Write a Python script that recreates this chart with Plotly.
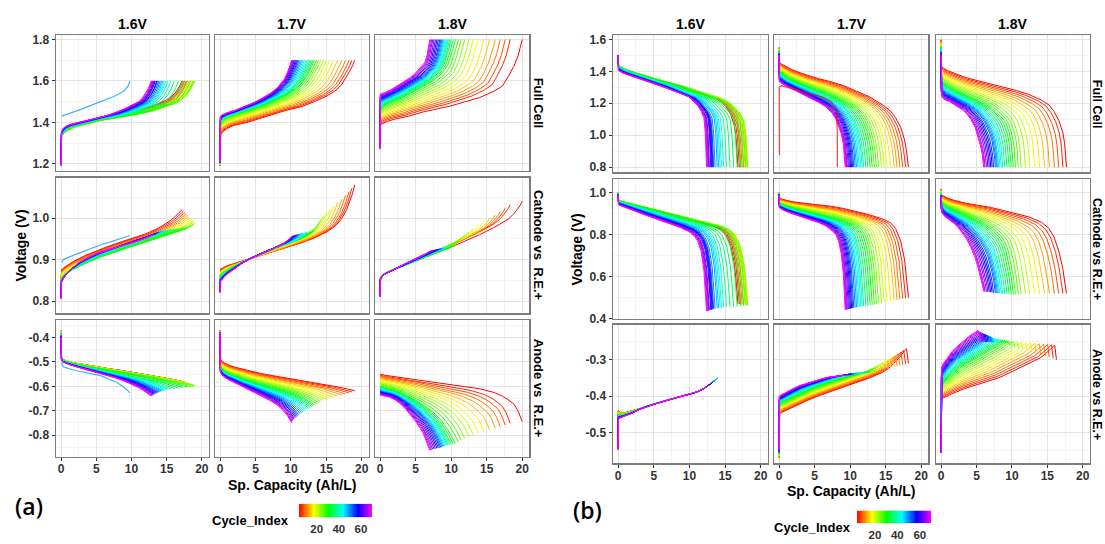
import numpy as np
import plotly.graph_objects as go
from plotly.colors import sample_colorscale

W, H = 1105, 544
FONT = "Liberation Sans"

# ---------------- data ----------------
cycles = list(range(4, 71, 2))
CMIN, CMAX = 4, 70
rainbow = [[0.0, '#FF0000'], [0.2, '#FFFF00'], [0.4, '#00FF00'],
           [0.6, '#00FFFF'], [0.8, '#0000FF'], [1.0, '#FF00FF']]

# end capacity (Ah/L) of each cycle, per cut-off voltage
cap_a16 = [17.2, 17.4, 17.6, 17.8, 18.0, 18.2, 18.4, 18.6, 18.8, 18.9, 19.0, 18.8, 18.4, 17.9, 17.3, 16.7, 16.1,
           15.6, 15.2, 14.9, 14.7, 14.5, 14.3, 14.1, 13.9, 13.7, 13.6, 13.4, 13.3, 13.2, 13.1, 13.0, 12.9, 12.8]
cap_a17 = [19.0, 18.6, 18.2, 17.7, 17.2, 16.6, 16.0, 15.5, 15.0, 14.6, 14.2, 13.9, 13.6, 13.3, 13.1, 12.9, 12.7,
           12.5, 12.3, 12.1, 11.9, 11.7, 11.5, 11.3, 11.1, 10.95, 10.8, 10.65, 10.5, 10.4, 10.3, 10.2, 10.15, 10.1]
cap_a18 = [20.0, 18.3, 17.6, 16.9, 16.2, 15.4, 14.6, 13.8, 13.1, 12.5, 11.9, 11.4, 11.0, 10.6, 10.3, 10.0, 9.8,
           9.6, 9.45, 9.3, 9.15, 9.0, 8.85, 8.7, 8.55, 8.4, 8.2, 8.0, 7.8, 7.6, 7.4, 7.25, 7.1, 7.0]
cap_b16 = [16.8, 17.0, 17.2, 17.4, 17.6, 17.8, 18.0, 18.1, 18.2, 18.2, 18.1, 17.9, 17.6, 17.2, 16.7, 16.2, 15.7,
           15.2, 14.8, 14.5, 14.3, 14.1, 13.9, 13.6, 13.4, 13.3, 13.2, 13.1, 13.0, 12.8, 12.7, 12.6, 12.5, 12.4]
cap_b17 = [18.2, 17.8, 17.4, 17.0, 16.6, 16.2, 15.7, 15.2, 14.8, 14.4, 14.0, 13.7, 13.4, 13.1, 12.8, 12.5, 12.2,
           11.9, 11.7, 11.5, 11.3, 11.1, 10.9, 10.7, 10.5, 10.35, 10.2, 10.05, 9.9, 9.75, 9.6, 9.5, 9.4, 9.3]
cap_b18 = [17.7, 17.2, 16.6, 16.0, 15.3, 14.6, 13.9, 13.2, 12.5, 11.9, 11.3, 10.9, 10.5, 10.2, 9.9, 9.6, 9.3,
           9.0, 8.7, 8.5, 8.3, 8.1, 7.95, 7.8, 7.65, 7.4, 7.2, 7.0, 6.8, 6.6, 6.4, 6.2, 6.1, 6.0]

# fraction of each cycle's capacity at which the key-curve voltages were read
frac_grid = [0, 0.004, 0.02, 0.05, 0.1, 0.2, 0.3, 0.4, 0.5, 0.6, 0.7, 0.8, 0.86, 0.9, 0.94, 0.97, 0.985, 1.0]

# key curves (voltage) read at cycles 4 (red), 30 (green), 70 (magenta)
a_full_16 = {4: [1.20, 1.33, 1.35, 1.36, 1.375, 1.395, 1.41, 1.425, 1.44, 1.455, 1.47, 1.49, 1.505, 1.52, 1.54, 1.565, 1.58, 1.60],
             30: [1.22, 1.335, 1.35, 1.365, 1.38, 1.395, 1.41, 1.42, 1.43, 1.44, 1.455, 1.475, 1.49, 1.505, 1.53, 1.56, 1.578, 1.60],
             70: [1.19, 1.35, 1.37, 1.38, 1.39, 1.40, 1.41, 1.42, 1.432, 1.447, 1.465, 1.487, 1.50, 1.515, 1.54, 1.565, 1.58, 1.60]}
a_full_17 = {4: [1.19, 1.34, 1.355, 1.37, 1.385, 1.40, 1.42, 1.44, 1.46, 1.475, 1.50, 1.53, 1.555, 1.58, 1.62, 1.655, 1.675, 1.70],
             30: [1.20, 1.39, 1.41, 1.42, 1.43, 1.445, 1.46, 1.475, 1.49, 1.51, 1.53, 1.56, 1.585, 1.61, 1.64, 1.67, 1.685, 1.70],
             70: [1.21, 1.425, 1.435, 1.44, 1.447, 1.457, 1.47, 1.485, 1.50, 1.518, 1.54, 1.567, 1.59, 1.61, 1.64, 1.665, 1.68, 1.70]}
a_full_18 = {4: [1.37, 1.39, 1.395, 1.405, 1.415, 1.43, 1.45, 1.465, 1.48, 1.50, 1.52, 1.55, 1.575, 1.62, 1.67, 1.72, 1.76, 1.80],
             30: [1.30, 1.46, 1.47, 1.48, 1.49, 1.505, 1.52, 1.54, 1.56, 1.58, 1.60, 1.63, 1.655, 1.68, 1.72, 1.76, 1.78, 1.80],
             70: [1.27, 1.535, 1.54, 1.54, 1.545, 1.555, 1.57, 1.585, 1.60, 1.615, 1.635, 1.66, 1.675, 1.69, 1.72, 1.76, 1.78, 1.80]}
a_cat_16 = {4: [0.84, 0.875, 0.88, 0.886, 0.895, 0.91, 0.922, 0.933, 0.943, 0.952, 0.962, 0.975, 0.985, 0.993, 1.003, 1.012, 1.016, 1.02],
            30: [0.82, 0.852, 0.86, 0.868, 0.877, 0.892, 0.905, 0.916, 0.926, 0.936, 0.946, 0.955, 0.961, 0.965, 0.969, 0.973, 0.975, 0.977],
            70: [0.805, 0.845, 0.852, 0.862, 0.875, 0.893, 0.905, 0.915, 0.922, 0.929, 0.935, 0.941, 0.945, 0.948, 0.951, 0.954, 0.955, 0.957]}
a_cat_17 = {4: [0.845, 0.877, 0.88, 0.885, 0.89, 0.90, 0.91, 0.92, 0.93, 0.94, 0.952, 0.968, 0.982, 0.997, 1.02, 1.045, 1.06, 1.08],
            30: [0.83, 0.86, 0.865, 0.87, 0.877, 0.89, 0.90, 0.91, 0.92, 0.929, 0.937, 0.945, 0.95, 0.955, 0.96, 0.965, 0.967, 0.97],
            70: [0.82, 0.847, 0.85, 0.857, 0.865, 0.878, 0.89, 0.90, 0.908, 0.915, 0.922, 0.93, 0.935, 0.94, 0.945, 0.95, 0.952, 0.955]}
a_cat_18 = {4: [0.81, 0.86, 0.865, 0.87, 0.877, 0.89, 0.903, 0.917, 0.93, 0.945, 0.96, 0.977, 0.988, 0.997, 1.01, 1.022, 1.03, 1.04],
            30: [0.82, 0.855, 0.86, 0.865, 0.87, 0.878, 0.884, 0.891, 0.898, 0.905, 0.912, 0.92, 0.924, 0.927, 0.93, 0.932, 0.933, 0.934],
            70: [0.81, 0.85, 0.855, 0.86, 0.865, 0.872, 0.878, 0.884, 0.89, 0.895, 0.90, 0.906, 0.91, 0.912, 0.915, 0.918, 0.919, 0.92]}
a_an_16 = {4: [-0.37, -0.48, -0.49, -0.497, -0.503, -0.512, -0.52, -0.528, -0.535, -0.543, -0.551, -0.56, -0.565, -0.569, -0.573, -0.577, -0.579, -0.58],
           30: [-0.38, -0.485, -0.495, -0.50, -0.507, -0.518, -0.528, -0.537, -0.546, -0.555, -0.564, -0.575, -0.582, -0.588, -0.594, -0.598, -0.60, -0.603],
           70: [-0.40, -0.49, -0.50, -0.505, -0.512, -0.523, -0.533, -0.543, -0.553, -0.565, -0.578, -0.594, -0.605, -0.614, -0.624, -0.632, -0.636, -0.64]}
a_an_17 = {4: [-0.37, -0.49, -0.50, -0.51, -0.52, -0.535, -0.547, -0.557, -0.566, -0.575, -0.584, -0.593, -0.60, -0.605, -0.61, -0.614, -0.616, -0.618],
           30: [-0.38, -0.52, -0.53, -0.54, -0.55, -0.565, -0.577, -0.588, -0.598, -0.608, -0.62, -0.633, -0.642, -0.65, -0.66, -0.668, -0.672, -0.675],
           70: [-0.38, -0.54, -0.55, -0.56, -0.57, -0.585, -0.60, -0.613, -0.627, -0.642, -0.658, -0.677, -0.692, -0.705, -0.72, -0.735, -0.743, -0.75]}
a_an_18 = {4: [-0.55, -0.55, -0.553, -0.556, -0.56, -0.567, -0.575, -0.585, -0.593, -0.60, -0.61, -0.625, -0.64, -0.655, -0.672, -0.70, -0.72, -0.745],
           30: [-0.60, -0.60, -0.603, -0.606, -0.61, -0.618, -0.63, -0.645, -0.662, -0.682, -0.705, -0.735, -0.76, -0.778, -0.80, -0.818, -0.827, -0.835],
           70: [-0.635, -0.635, -0.637, -0.638, -0.64, -0.645, -0.655, -0.67, -0.69, -0.715, -0.74, -0.77, -0.79, -0.81, -0.83, -0.848, -0.856, -0.863]}

b_full_16 = {4: [1.50, 1.425, 1.42, 1.41, 1.395, 1.37, 1.345, 1.32, 1.30, 1.28, 1.26, 1.235, 1.21, 1.18, 1.13, 1.06, 0.98, 0.80],
             30: [1.50, 1.435, 1.43, 1.415, 1.40, 1.375, 1.35, 1.33, 1.31, 1.28, 1.255, 1.225, 1.20, 1.17, 1.14, 1.10, 1.0, 0.80],
             70: [1.50, 1.405, 1.40, 1.39, 1.38, 1.36, 1.342, 1.325, 1.305, 1.285, 1.265, 1.24, 1.21, 1.185, 1.15, 1.11, 1.02, 0.80]}
b_full_17 = {4: [1.55, 1.455, 1.445, 1.43, 1.41, 1.38, 1.355, 1.335, 1.31, 1.275, 1.24, 1.19, 1.152, 1.11, 1.05, 0.97, 0.90, 0.80],
             30: [1.53, 1.40, 1.39, 1.375, 1.355, 1.33, 1.305, 1.285, 1.265, 1.24, 1.21, 1.17, 1.13, 1.09, 1.03, 0.96, 0.90, 0.80],
             70: [1.50, 1.335, 1.33, 1.32, 1.31, 1.29, 1.27, 1.25, 1.23, 1.205, 1.18, 1.14, 1.10, 1.06, 1.01, 0.95, 0.89, 0.80]}
b_full_18 = {4: [1.60, 1.43, 1.42, 1.405, 1.39, 1.36, 1.34, 1.32, 1.30, 1.28, 1.255, 1.22, 1.19, 1.15, 1.09, 1.02, 0.95, 0.80],
             30: [1.55, 1.34, 1.33, 1.32, 1.305, 1.28, 1.26, 1.24, 1.22, 1.195, 1.17, 1.13, 1.10, 1.07, 1.02, 0.96, 0.90, 0.80],
             70: [1.50, 1.245, 1.24, 1.23, 1.22, 1.21, 1.195, 1.175, 1.16, 1.135, 1.10, 1.05, 1.0, 0.96, 0.92, 0.88, 0.85, 0.80]}
b_cat_16 = {4: [1.00, 0.965, 0.96, 0.955, 0.945, 0.93, 0.915, 0.90, 0.885, 0.87, 0.855, 0.84, 0.825, 0.80, 0.75, 0.66, 0.58, 0.47],
            30: [1.00, 0.965, 0.96, 0.955, 0.947, 0.933, 0.918, 0.903, 0.888, 0.873, 0.858, 0.84, 0.823, 0.80, 0.75, 0.66, 0.57, 0.46],
            70: [0.99, 0.945, 0.94, 0.935, 0.925, 0.91, 0.895, 0.88, 0.865, 0.85, 0.835, 0.815, 0.795, 0.77, 0.72, 0.63, 0.55, 0.435]}
b_cat_17 = {4: [1.00, 0.975, 0.97, 0.965, 0.958, 0.95, 0.943, 0.936, 0.925, 0.91, 0.895, 0.875, 0.858, 0.83, 0.77, 0.68, 0.60, 0.50],
            30: [1.00, 0.95, 0.945, 0.94, 0.932, 0.92, 0.91, 0.90, 0.89, 0.878, 0.865, 0.845, 0.825, 0.80, 0.74, 0.65, 0.56, 0.465],
            70: [0.99, 0.93, 0.925, 0.92, 0.912, 0.90, 0.89, 0.88, 0.87, 0.858, 0.843, 0.82, 0.80, 0.77, 0.71, 0.62, 0.53, 0.44]}
b_cat_18 = {4: [1.02, 0.99, 0.985, 0.975, 0.965, 0.95, 0.94, 0.93, 0.915, 0.90, 0.885, 0.86, 0.83, 0.79, 0.72, 0.64, 0.58, 0.52],
            30: [1.00, 0.955, 0.95, 0.94, 0.93, 0.915, 0.90, 0.885, 0.87, 0.85, 0.825, 0.79, 0.76, 0.72, 0.66, 0.60, 0.56, 0.515],
            70: [0.98, 0.91, 0.905, 0.895, 0.885, 0.87, 0.855, 0.835, 0.81, 0.78, 0.74, 0.69, 0.65, 0.62, 0.59, 0.565, 0.55, 0.53]}
# anode 1.6 V discharge: all cycles follow one line (read on absolute capacity), data stop at 14 Ah/L
abs_grid_b16 = [0, 0.02, 0.3, 1, 2, 3, 4, 5, 6, 7, 8, 9, 10, 11, 12, 12.5, 13, 13.5, 14]
b_an_16 = {4: [-0.548, -0.44, -0.445, -0.445, -0.44, -0.434, -0.428, -0.422, -0.416, -0.41, -0.405, -0.40, -0.395, -0.389, -0.38, -0.374, -0.366, -0.358, -0.35],
           30: [-0.53, -0.45, -0.452, -0.45, -0.443, -0.435, -0.428, -0.422, -0.416, -0.41, -0.405, -0.40, -0.395, -0.389, -0.38, -0.374, -0.366, -0.358, -0.35],
           70: [-0.548, -0.462, -0.46, -0.455, -0.447, -0.437, -0.429, -0.423, -0.417, -0.411, -0.405, -0.40, -0.395, -0.389, -0.38, -0.374, -0.366, -0.358, -0.35]}
b_an_17 = {4: [-0.57, -0.45, -0.445, -0.44, -0.43, -0.415, -0.40, -0.388, -0.375, -0.362, -0.35, -0.335, -0.32, -0.305, -0.29, -0.275, -0.27, -0.31],
           30: [-0.56, -0.425, -0.42, -0.415, -0.41, -0.398, -0.385, -0.375, -0.366, -0.357, -0.35, -0.343, -0.34, -0.337, -0.335, -0.333, -0.333, -0.335],
           70: [-0.55, -0.40, -0.398, -0.395, -0.39, -0.38, -0.372, -0.366, -0.36, -0.355, -0.35, -0.347, -0.345, -0.344, -0.343, -0.343, -0.343, -0.345]}
b_an_18 = {4: [-0.555, -0.41, -0.405, -0.40, -0.393, -0.38, -0.37, -0.36, -0.35, -0.335, -0.32, -0.305, -0.295, -0.285, -0.275, -0.265, -0.26, -0.30],
           30: [-0.555, -0.37, -0.365, -0.36, -0.35, -0.335, -0.32, -0.31, -0.30, -0.29, -0.28, -0.27, -0.263, -0.258, -0.253, -0.25, -0.248, -0.255],
           70: [-0.555, -0.325, -0.32, -0.312, -0.305, -0.29, -0.275, -0.265, -0.255, -0.245, -0.237, -0.23, -0.225, -0.222, -0.22, -0.225, -0.235, -0.25]}

# odd single cycles
odd_a16_cycle = 49
odd_a16_full_x = [0.1, 1, 3, 5.6, 7.5, 8.9, 9.5, 9.8]
odd_a16_full_y = [1.43, 1.44, 1.465, 1.50, 1.525, 1.55, 1.575, 1.60]
odd_a16_cat_x = [0.1, 0.3, 2, 4, 5.6, 7.5, 9.8]
odd_a16_cat_y = [0.893, 0.90, 0.912, 0.925, 0.935, 0.945, 0.958]
odd_a16_an_x = [0.1, 0.3, 2, 4, 5.6, 7.9, 9.0, 9.8]
odd_a16_an_y = [-0.50, -0.52, -0.535, -0.548, -0.556, -0.583, -0.605, -0.627]
odd_b17_cycle = 4
odd_b17_full_x = [0.0, 0.05, None, 0.0, 0.3, 2, 4, 6, 7.2, 7.8, 8.1, 8.2, 8.2]
odd_b17_full_y = [1.30, 0.876, None, 1.30, 1.31, 1.29, 1.265, 1.24, 1.215, 1.18, 1.13, 1.0, 0.80]

col_titles = ["1.6V", "1.7V", "1.8V"]
strips_a = ["Full Cell", "Cathode vs\u00a0\u00a0R.E.+", "Anode vs\u00a0\u00a0R.E.+"]
strips_b = ["Full Cell", "Cathode vs R.E.+", "Anode vs R.E.+"]
x_ticks = [0, 5, 10, 15, 20]
y_ticks_a = [[1.2, 1.4, 1.6, 1.8], [0.8, 0.9, 1.0], [-0.8, -0.7, -0.6, -0.5, -0.4]]
y_ticks_b = [[0.8, 1.0, 1.2, 1.4, 1.6], [0.4, 0.6, 0.8, 1.0], [-0.5, -0.4, -0.3]]
cb_ticks = [20, 40, 60]

# ---------------- layout geometry (pixels) ----------------
cols_px = {'a': [(56, 208.5), (215, 368.5), (375, 529)], 'b': [(613, 767.5), (774, 928), (936, 1089.5)]}
rows_px = {'a': [(33, 171), (178, 316), (323, 462)], 'b': [(33, 172.3), (179.5, 321.5), (327.7, 469)]}
y_ranges = {'a': [(1.166, 1.820), (0.771, 1.097), (-0.888, -0.328)],
            'b': [(0.769, 1.625), (0.40, 1.065), (-0.585, -0.204)]}
y_minor = {'a': [0.1, 0.05, 0.05], 'b': [0.1, 0.1, 0.05]}
x_range = (-0.72, 20.95)

panels = {
    ('a', 0, 0): (a_full_16, cap_a16), ('a', 0, 1): (a_full_17, cap_a17), ('a', 0, 2): (a_full_18, cap_a18),
    ('a', 1, 0): (a_cat_16, cap_a16), ('a', 1, 1): (a_cat_17, cap_a17), ('a', 1, 2): (a_cat_18, cap_a18),
    ('a', 2, 0): (a_an_16, cap_a16), ('a', 2, 1): (a_an_17, cap_a17), ('a', 2, 2): (a_an_18, cap_a18),
    ('b', 0, 0): (b_full_16, cap_b16), ('b', 0, 1): (b_full_17, cap_b17), ('b', 0, 2): (b_full_18, cap_b18),
    ('b', 1, 0): (b_cat_16, cap_b16), ('b', 1, 1): (b_cat_17, cap_b17), ('b', 1, 2): (b_cat_18, cap_b18),
    ('b', 2, 0): (b_an_16, cap_b16), ('b', 2, 1): (b_an_17, cap_b17), ('b', 2, 2): (b_an_18, cap_b18),
}
cap_scale = {('b', 2, 2): 0.92}


def cyc_color(c):
    return sample_colorscale(rainbow, [(c - CMIN) / (CMAX - CMIN)])[0]


def blend(keys, c):
    k4, k30, k70 = (np.array(keys[k], dtype=float) for k in (4, 30, 70))
    if c <= 30:
        w = (c - 4) / 26.0
        return (1 - w) * k4 + w * k30
    w = (c - 30) / 40.0
    return (1 - w) * k30 + w * k70


def px2x(p):
    return p / W


def px2y(p):
    return 1 - p / H


fig = go.Figure()
layout = {}
axis_id = {}
tick_font = dict(family=FONT, size=12, color='#333333', weight='bold')
BORDER = '#7C7C7C'
n = 0
for g in ('a', 'b'):
    for r in range(3):
        for c in range(3):
            n += 1
            axis_id[(g, r, c)] = n
            sfx = '' if n == 1 else str(n)
            x0, x1 = cols_px[g][c]
            y0, y1 = rows_px[g][r]
            yt = (y_ticks_a if g == 'a' else y_ticks_b)[r]
            layout['xaxis' + sfx] = dict(
                domain=[px2x(x0), px2x(x1)], range=list(x_range), anchor='y' + sfx,
                tickvals=x_ticks, ticktext=[str(v) for v in x_ticks],
                showticklabels=(r == 2), ticks='outside' if r == 2 else '', ticklen=3, tickcolor='#333333',
                ticklabelstandoff=-2,
                tickfont=tick_font, showgrid=True, gridcolor='#E4E4E4', gridwidth=1, zeroline=False,
                showline=True, mirror=True, linecolor=BORDER, linewidth=1.5,
                minor=dict(tick0=2.5, dtick=5, showgrid=True, gridcolor='#F0F0F0', gridwidth=0.7, ticks=''),
                fixedrange=True)
            yr = y_ranges[g][r]
            layout['yaxis' + sfx] = dict(
                domain=[px2y(y1), px2y(y0)], range=list(yr), anchor='x' + sfx,
                tickvals=yt, ticktext=['%.1f' % v for v in yt],
                showticklabels=(c == 0), ticks='outside' if c == 0 else '', ticklen=3, tickcolor='#333333',
                tickfont=tick_font, showgrid=True, gridcolor='#E4E4E4', gridwidth=1, zeroline=False,
                showline=True, mirror=True, linecolor=BORDER, linewidth=1.5,
                minor=dict(tick0=yt[0] - y_minor[g][r], dtick=2 * y_minor[g][r] if r == 0 and g == 'a' else y_minor[g][r],
                           showgrid=True, gridcolor='#F0F0F0', gridwidth=0.7, ticks=''),
                fixedrange=True)

# curves
for key, (keys, caps) in panels.items():
    n = axis_id[key]
    sfx = '' if n == 1 else str(n)
    scale = cap_scale.get(key, 1.0)
    for i, cyc in enumerate(cycles):
        v = blend(keys, cyc)
        cap = caps[i] * scale
        if key == ('b', 2, 0):
            g = np.array(abs_grid_b16)
            xe = min(cap, g[-1])
            m = g < xe
            xs = list(g[m]) + [xe]
            ys = list(v[m]) + [float(np.interp(xe, g, v))]
        else:
            xs = list(np.array(frac_grid) * cap)
            ys = list(v)
        fig.add_trace(go.Scatter(x=xs, y=ys, mode='lines', line=dict(color=cyc_color(cyc), width=1),
                                 xaxis='x' + sfx, yaxis='y' + sfx, hoverinfo='skip', showlegend=False))


# odd cycles
def add_odd(key, xs, ys, cyc):
    n = axis_id[key]
    sfx = '' if n == 1 else str(n)
    fig.add_trace(go.Scatter(x=xs, y=ys, mode='lines', line=dict(color=cyc_color(cyc), width=1.2),
                             opacity=0.75, xaxis='x' + sfx, yaxis='y' + sfx, hoverinfo='skip',
                             showlegend=False, connectgaps=False))


add_odd(('a', 0, 0), odd_a16_full_x, odd_a16_full_y, odd_a16_cycle)
add_odd(('a', 1, 0), odd_a16_cat_x, odd_a16_cat_y, odd_a16_cycle)
add_odd(('a', 2, 0), odd_a16_an_x, odd_a16_an_y, odd_a16_cycle)
add_odd(('b', 0, 1), odd_b17_full_x, odd_b17_full_y, odd_b17_cycle)

# colour bars (as gradient strips on their own axes)
cb_px = {'a': ((299, 372), (510, 524)), 'b': ((857, 931), (517, 530))}
cb_vals = list(np.linspace(CMIN, CMAX, 133))
cb_font = dict(family=FONT, size=11.5, color='#333333', weight='bold')
for j, g in enumerate(('a', 'b')):
    n = 19 + j
    sfx = str(n)
    (cx0, cx1), (cy0, cy1) = cb_px[g]
    layout['xaxis' + sfx] = dict(domain=[px2x(cx0), px2x(cx1)], range=[CMIN, CMAX], anchor='y' + sfx,
                                 tickvals=cb_ticks, ticktext=[str(t) for t in cb_ticks], ticks='outside',
                                 ticklen=1, tickcolor='rgba(0,0,0,0)', tickfont=cb_font,
                                 showgrid=False, zeroline=False, showline=False, fixedrange=True)
    layout['yaxis' + sfx] = dict(domain=[px2y(cy1), px2y(cy0)], range=[-0.5, 0.5], anchor='x' + sfx,
                                 showticklabels=False, ticks='', showgrid=False, zeroline=False,
                                 showline=False, fixedrange=True)
    fig.add_trace(go.Heatmap(z=[cb_vals], x=cb_vals, y=[0], colorscale=rainbow, zmin=CMIN, zmax=CMAX,
                             showscale=False, hoverinfo='skip', xaxis='x' + sfx, yaxis='y' + sfx))

# text
ann = []
bold = lambda s: dict(family=FONT, size=s, color='#000000', weight='bold')
for g in ('a', 'b'):
    for c in range(3):
        x0, x1 = cols_px[g][c]
        ann.append(dict(x=px2x((x0 + x1) / 2), y=px2y(21.5), text=col_titles[c], font=bold(14)))
    strips = strips_a if g == 'a' else strips_b
    sx = 538.5 if g == 'a' else 1097
    for r in range(3):
        y0, y1 = rows_px[g][r]
        ann.append(dict(x=px2x(sx), y=px2y((y0 + y1) / 2), text=strips[r], textangle=90,
                        font=bold(13 if g == 'a' else 12.5), borderpad=0))
ann.append(dict(x=px2x(21), y=px2y(247), text="Voltage (V)", textangle=-90, font=bold(14)))
ann.append(dict(x=px2x(577), y=px2y(251), text="Voltage (V)", textangle=-90, font=bold(14)))
ann.append(dict(x=px2x(292), y=px2y(491.5), text="Sp. Capacity (Ah/L)", font=bold(14), borderpad=0))
ann.append(dict(x=px2x(851), y=px2y(497.5), text="Sp. Capacity (Ah/L)", font=bold(14), borderpad=0))
lab_font = dict(family="Open Sans", size=23, color='#000000', weight=600)
ann.append(dict(x=px2x(29), y=px2y(512), text="(a)", font=lab_font))
ann.append(dict(x=px2x(587), y=px2y(517), text="(b)", font=lab_font))
ann.append(dict(x=px2x(250), y=px2y(527), text="Cycle_Index", font=bold(13)))
ann.append(dict(x=px2x(812), y=px2y(534), text="Cycle_Index", font=bold(13)))
for a in ann:
    a.update(xref='paper', yref='paper', showarrow=False, xanchor='center', yanchor='middle')

fig.update_layout(width=W, height=H, margin=dict(l=0, r=0, t=0, b=0), paper_bgcolor='white',
                  plot_bgcolor='white', annotations=ann, showlegend=False, **layout)
fig.write_html("out.html", config={'displayModeBar': False, 'staticPlot': True})

# remove the browser's default 8px page margin so the figure sits at the window's corner
with open("out.html", "r", encoding="utf-8") as f:
    html = f.read()
html = html.replace("<head>", "<head><style>html,body{margin:0;padding:0;overflow:hidden;}</style>", 1)
with open("out.html", "w", encoding="utf-8") as f:
    f.write(html)
